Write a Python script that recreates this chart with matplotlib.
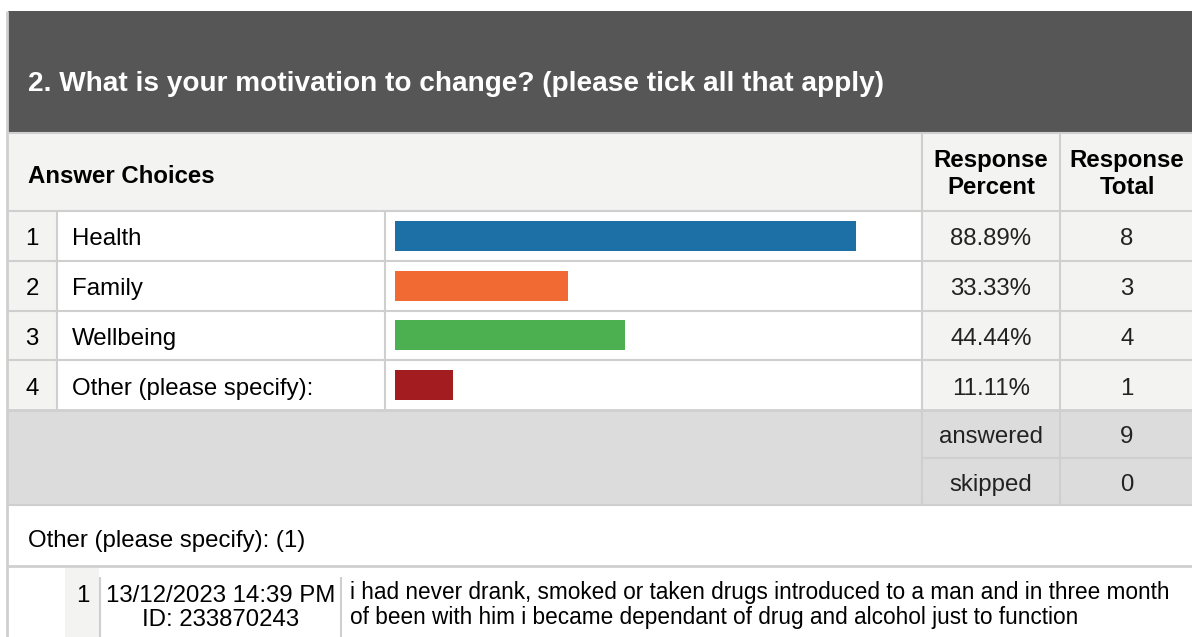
import matplotlib.pyplot as plt
from matplotlib.patches import Rectangle

plt.rcParams["font.family"] = ["Liberation Sans", "DejaVu Sans"]

# data
title = "2. What is your motivation to change? (please tick all that apply)"
choices = ["Health", "Family", "Wellbeing", "Other (please specify):"]
percents = [88.89, 33.33, 44.44, 11.11]
totals = [8, 3, 4, 1]
bar_colors = ["#1d70a6", "#f26a33", "#4caf50", "#a21c20"]
summary_labels = ["answered", "skipped"]
summary_values = [9, 0]
other_header = "Other (please specify): (1)"
resp_no = [1]
resp_date = ["13/12/2023 14:39 PM"]
resp_id = ["ID: 233870243"]
resp_text = ["i had never drank, smoked or taken drugs introduced to a man and in three month\n"
             "of been with him i became dependant of drug and alcohol just to function"]

W, H = 1192, 637
DARK = "#555655"
LIGHT = "#f3f3f2"
SUMM = "#dcdcdc"
LINE = "#cfcfcf"
BODY = 17.3


def rect(ax, x0, y0, x1, y1, color):
    ax.add_patch(Rectangle((x0, y0), x1 - x0, y1 - y0, facecolor=color, edgecolor="none", zorder=1))


def hline(ax, y, x0, x1, lw=1.5):
    ax.plot([x0, x1], [y, y], color=LINE, lw=lw, zorder=2, solid_capstyle="butt")


def vline(ax, x, y0, y1, lw=1.5):
    ax.plot([x, x], [y0, y1], color=LINE, lw=lw, zorder=2, solid_capstyle="butt")


fig = plt.figure(figsize=(W / 100, H / 100), dpi=100)
ax = fig.add_axes([0, 0, 1, 1])
ax.set_xlim(0, W)
ax.set_ylim(H, 0)
ax.axis("off")

# header band
rect(ax, 8, 11, W, 133, DARK)
ax.text(28, 81, title, color="white", fontsize=20.2, fontweight="bold", va="center_baseline")

# column header row
rect(ax, 8, 133, W, 211, LIGHT)
ax.text(28, 174, "Answer Choices", fontsize=BODY, fontweight="bold", va="center_baseline")
ax.text(991, 174, "Response\nPercent", fontsize=BODY, fontweight="bold", va="center", ha="center",
        linespacing=1.2)
ax.text(1127, 174, "Response\nTotal", fontsize=BODY, fontweight="bold", va="center", ha="center",
        linespacing=1.2)

row_top = 211
row_h = 49.75
rows_bottom = row_top + row_h * len(choices)
rect(ax, 8, row_top, 57, rows_bottom, LIGHT)
rect(ax, 922, row_top, W, rows_bottom, LIGHT)
for i, (name, p, t) in enumerate(zip(choices, percents, totals)):
    yc = row_top + row_h * (i + 0.5) + 1
    ax.text(32, yc, str(i + 1), fontsize=BODY, ha="center", va="center_baseline")
    ax.text(72, yc, name, fontsize=BODY, va="center_baseline")
    ax.text(991, yc, f"{p:.2f}%", fontsize=BODY, ha="center", va="center_baseline", color="#222222")
    ax.text(1127, yc, str(t), fontsize=BODY, ha="center", va="center_baseline", color="#222222")
    hline(ax, row_top + row_h * i, 8, W)
hline(ax, rows_bottom, 8, W, lw=2)
vline(ax, 57, row_top, rows_bottom)
vline(ax, 385, row_top, rows_bottom)

# summary rows
summ_top = rows_bottom
summ_h = 47.5
summ_bottom = summ_top + summ_h * len(summary_labels)
rect(ax, 8, summ_top, W, summ_bottom, SUMM)
for i, (lab, v) in enumerate(zip(summary_labels, summary_values)):
    yc = summ_top + summ_h * (i + 0.5) + 1
    ax.text(991, yc, lab, fontsize=BODY, ha="center", va="center_baseline", color="#222222")
    ax.text(1127, yc, str(v), fontsize=BODY, ha="center", va="center_baseline", color="#222222")
hline(ax, summ_top + summ_h, 922, W)
hline(ax, summ_bottom, 8, W)
vline(ax, 922, 133, summ_bottom)
vline(ax, 1060, 133, summ_bottom)
hline(ax, 133, 8, W)

# other responses
ax.text(28, 538, other_header, fontsize=BODY, va="center_baseline")
hline(ax, 566, 8, W, lw=2)
rect(ax, 65, 568, 99, H, LIGHT)
vline(ax, 100, 577, H)
vline(ax, 341, 577, H)
for n, d, rid, txt in zip(resp_no, resp_date, resp_id, resp_text):
    ax.text(90, 593, str(n), fontsize=BODY, ha="right", va="center_baseline")
    ax.text(221, 593, d, fontsize=BODY, ha="center", va="center_baseline")
    ax.text(221, 618, rid, fontsize=BODY, ha="center", va="center_baseline")
    ax.text(350, 605, txt, fontsize=16.3, va="center", linespacing=1.15)

# left border
vline(ax, 7, 11, H, lw=2)

# bars
bx0 = 395
bx_full = 518.6
bax = fig.add_axes([bx0 / W, 1 - rows_bottom / H, bx_full / W, (rows_bottom - row_top) / H])
bax.barh(range(len(choices)), percents, height=0.6, color=bar_colors)
bax.set_xlim(0, 100)
bax.set_ylim(len(choices) - 0.5, -0.5)
bax.axis("off")
bax.patch.set_alpha(0)

fig.savefig("out.png", dpi=100)
